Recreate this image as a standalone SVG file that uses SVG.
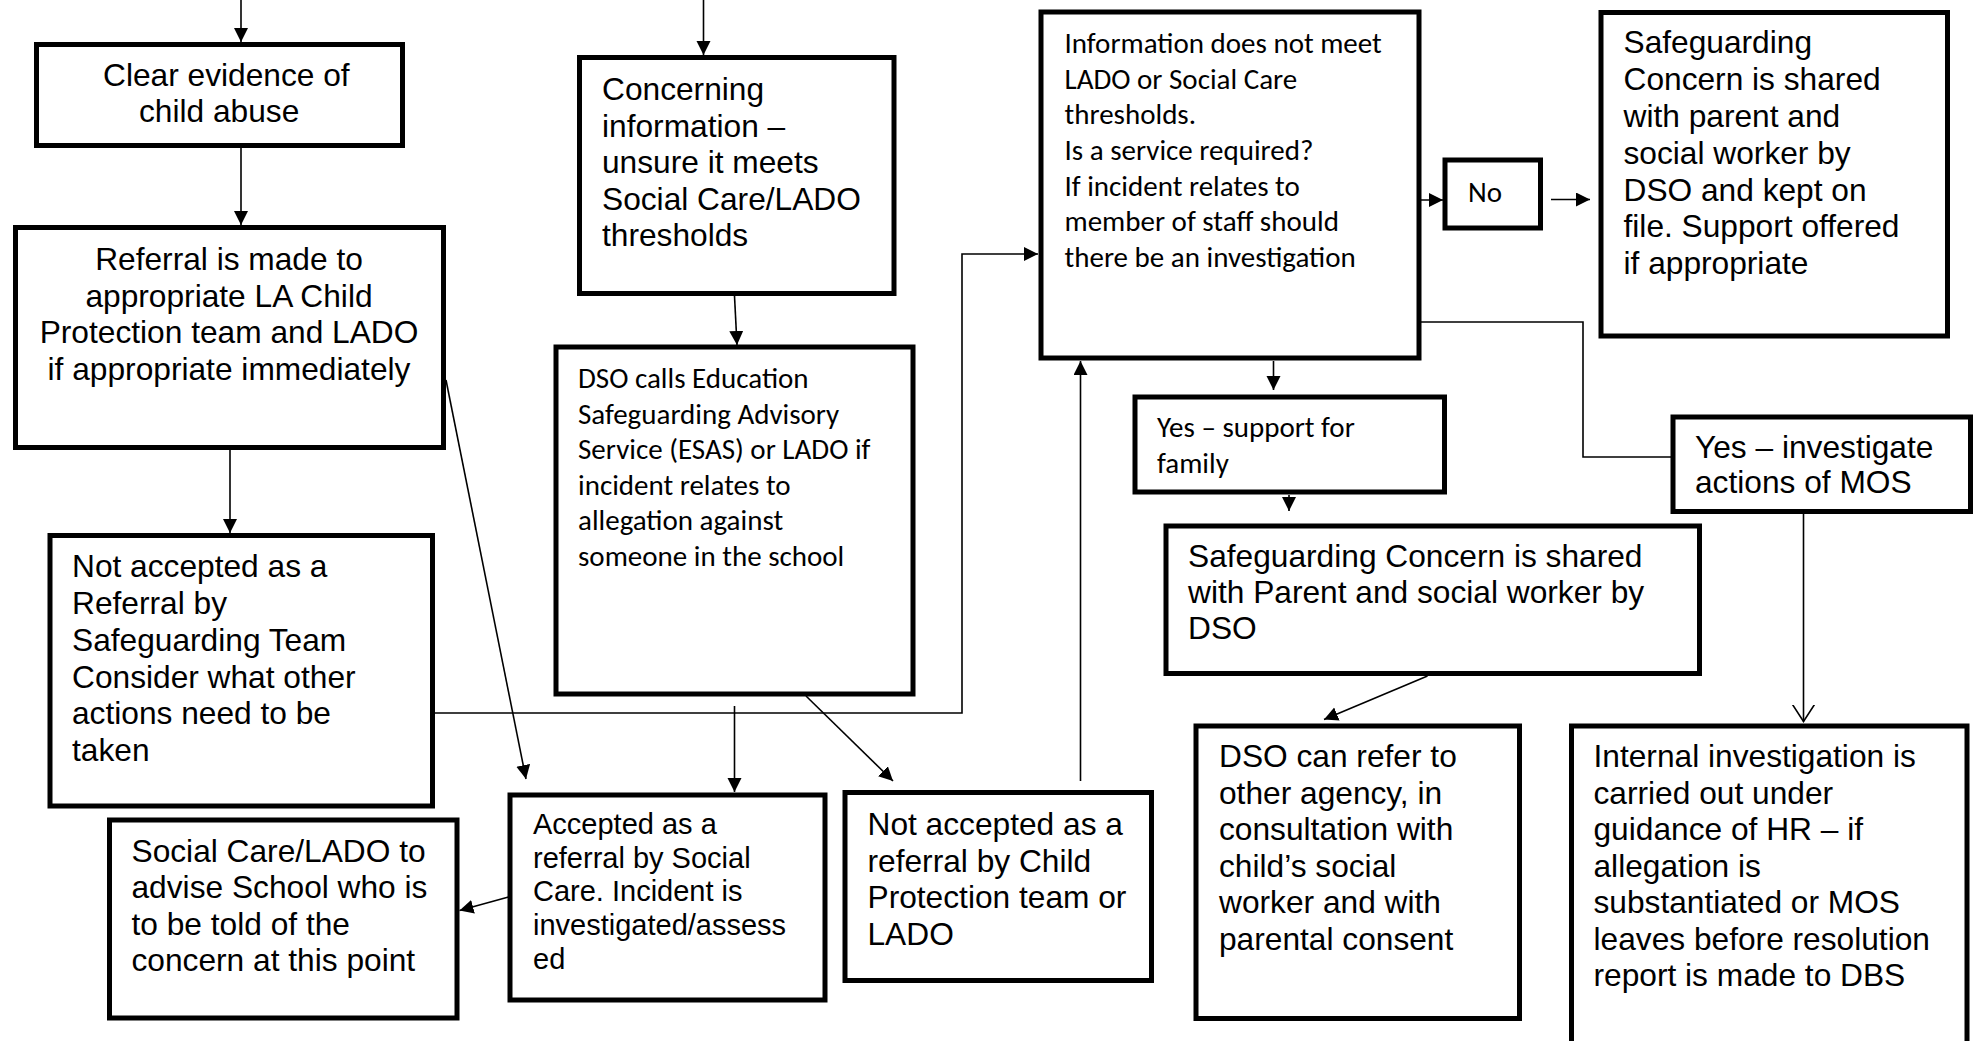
<svg xmlns="http://www.w3.org/2000/svg" width="1975" height="1041" viewBox="0 0 1975 1041">
  <style>
    .box { fill: #ffffff; stroke: #000000; stroke-width: 5; }
    .lnk { fill: none; stroke: #000000; stroke-width: 1.6; }
    .a { font-family: "Liberation Sans", Arial, sans-serif; font-size: 31.7px; fill: #000000; }
    .a29 { font-family: "Liberation Sans", Arial, sans-serif; font-size: 29px; fill: #000000; }
    .c { font-family: Carlito, Lato, "Open Sans", sans-serif; font-size: 29px; fill: #000000; }
  </style>
  <defs>
    <marker id="head" markerUnits="userSpaceOnUse" markerWidth="15" markerHeight="15" refX="14" refY="7" orient="auto">
      <path d="M0,0 L14,7 L0,14 z" fill="#000000"/>
    </marker>
    <marker id="vee" markerUnits="userSpaceOnUse" markerWidth="20" markerHeight="26" refX="17" refY="11" orient="auto">
      <path d="M0,0 L17,11 L0,22" fill="none" stroke="#000000" stroke-width="1.6"/>
    </marker>
  </defs>
  <rect width="1975" height="1041" fill="#ffffff"/>

  <!-- connectors -->
  <g id="connectors">
    <line class="lnk" x1="241" y1="0" x2="241" y2="42" marker-end="url(#head)"/>
    <line class="lnk" x1="241" y1="148" x2="241" y2="225" marker-end="url(#head)"/>
    <line class="lnk" x1="230" y1="450" x2="230" y2="533" marker-end="url(#head)"/>
    <line class="lnk" x1="446" y1="380" x2="526" y2="779" marker-end="url(#head)"/>
    <polyline class="lnk" points="435,713 962,713 962,254 1038,254" marker-end="url(#head)"/>
    <line class="lnk" x1="703.5" y1="0" x2="703.5" y2="55" marker-end="url(#head)"/>
    <line class="lnk" x1="734.5" y1="296" x2="737" y2="345" marker-end="url(#head)"/>
    <line class="lnk" x1="734.5" y1="706" x2="734.5" y2="792" marker-end="url(#head)"/>
    <line class="lnk" x1="806" y1="696" x2="893" y2="781" marker-end="url(#head)"/>
    <line class="lnk" x1="508.5" y1="897" x2="459.5" y2="910.5" marker-end="url(#head)"/>
    <line class="lnk" x1="1080.5" y1="781" x2="1080.5" y2="361" marker-end="url(#head)"/>
    <line class="lnk" x1="1401" y1="200" x2="1443" y2="200" marker-end="url(#head)"/>
    <line class="lnk" x1="1551" y1="199.5" x2="1590" y2="199.5" marker-end="url(#head)"/>
    <polyline class="lnk" points="1401,322 1583,322 1583,457 1671,457"/>
    <line class="lnk" x1="1273.5" y1="361" x2="1273.5" y2="390" marker-end="url(#head)"/>
    <line class="lnk" x1="1289" y1="495" x2="1289" y2="511" marker-end="url(#head)"/>
    <line class="lnk" x1="1427.5" y1="676" x2="1324" y2="719.5" marker-end="url(#head)"/>
    <line class="lnk" x1="1803.5" y1="514" x2="1803.5" y2="721.5" marker-end="url(#vee)"/>
  </g>

  <!-- left column -->
  <g id="clear-evidence">
    <rect class="box" x="36.5" y="44.5" width="366" height="101"/>
    <text class="a"><tspan x="103" y="86">Clear evidence of</tspan><tspan x="139" y="122">child abuse</tspan></text>
  </g>
  <g id="referral">
    <rect class="box" x="15.5" y="227.5" width="428" height="220"/>
    <text class="a" text-anchor="middle"><tspan x="229" y="270">Referral is made to</tspan><tspan x="229" y="306.5">appropriate LA Child</tspan><tspan x="229" y="343">Protection team and LADO</tspan><tspan x="229" y="379.5">if appropriate immediately</tspan></text>
  </g>
  <g id="not-accepted-safeguarding">
    <rect class="box" x="50" y="535.5" width="382.5" height="270.5"/>
    <text class="a"><tspan x="72" y="577">Not accepted as a</tspan><tspan x="72" y="614">Referral by</tspan><tspan x="72" y="651">Safeguarding Team</tspan><tspan x="72" y="687.5">Consider what other</tspan><tspan x="72" y="724">actions need to be</tspan><tspan x="72" y="761">taken</tspan></text>
  </g>
  <g id="advise-school">
    <rect class="box" x="109.5" y="820" width="347.5" height="198"/>
    <text class="a"><tspan x="131.5" y="861.5">Social Care/LADO to</tspan><tspan x="131.5" y="898">advise School who is</tspan><tspan x="131.5" y="934.5">to be told of the</tspan><tspan x="131.5" y="971">concern at this point</tspan></text>
  </g>

  <!-- middle column -->
  <g id="concerning-information">
    <rect class="box" x="579.5" y="57.5" width="314.5" height="236"/>
    <text class="a"><tspan x="602" y="100">Concerning</tspan><tspan x="602" y="136.5">information –</tspan><tspan x="602" y="173">unsure it meets</tspan><tspan x="602" y="209.5">Social Care/LADO</tspan><tspan x="602" y="246">thresholds</tspan></text>
  </g>
  <g id="dso-calls">
    <rect class="box" x="556" y="347" width="357" height="347"/>
    <text class="c"><tspan x="578" y="388">DSO calls Education</tspan><tspan x="578" y="423.5">Safeguarding Advisory</tspan><tspan x="578" y="459">Service (ESAS) or LADO if</tspan><tspan x="578" y="494.5">incident relates to</tspan><tspan x="578" y="530">allegation against</tspan><tspan x="578" y="565.5">someone in the school</tspan></text>
  </g>
  <g id="accepted-social-care">
    <rect class="box" x="510" y="795" width="315" height="205"/>
    <text class="a29"><tspan x="533" y="834">Accepted as a</tspan><tspan x="533" y="867.5">referral by Social</tspan><tspan x="533" y="901">Care. Incident is</tspan><tspan x="533" y="935">investigated/assess</tspan><tspan x="533" y="968.5">ed</tspan></text>
  </g>
  <g id="not-accepted-cp">
    <rect class="box" x="845" y="792.5" width="306.5" height="188"/>
    <text class="a"><tspan x="867.5" y="835">Not accepted as a</tspan><tspan x="867.5" y="871.5">referral by Child</tspan><tspan x="867.5" y="908">Protection team or</tspan><tspan x="867.5" y="944.5">LADO</tspan></text>
  </g>

  <!-- right side -->
  <g id="threshold-question">
    <rect class="box" x="1041" y="12" width="378" height="346"/>
    <text class="c"><tspan x="1064.5" y="53">Information does not meet</tspan><tspan x="1064.5" y="88.7">LADO or Social Care</tspan><tspan x="1064.5" y="124.4">thresholds.</tspan><tspan x="1064.5" y="160">Is a service required?</tspan><tspan x="1064.5" y="195.7">If incident relates to</tspan><tspan x="1064.5" y="231.4">member of staff should</tspan><tspan x="1064.5" y="267">there be an investigation</tspan></text>
  </g>
  <g id="no">
    <rect class="box" x="1445" y="160" width="95.5" height="68"/>
    <text class="c" x="1468" y="202">No</text>
  </g>
  <g id="shared-kept-on-file">
    <rect class="box" x="1601" y="12.5" width="346.5" height="323.5"/>
    <text class="a"><tspan x="1623.5" y="53">Safeguarding</tspan><tspan x="1623.5" y="90">Concern is shared</tspan><tspan x="1623.5" y="126.5">with parent and</tspan><tspan x="1623.5" y="163.5">social worker by</tspan><tspan x="1623.5" y="200.5">DSO and kept on</tspan><tspan x="1623.5" y="237">file. Support offered</tspan><tspan x="1623.5" y="274">if appropriate</tspan></text>
  </g>
  <g id="yes-support-family">
    <rect class="box" x="1135" y="397" width="309.5" height="95"/>
    <text class="c"><tspan x="1157" y="437">Yes – support for</tspan><tspan x="1157" y="472.5">family</tspan></text>
  </g>
  <g id="yes-investigate-mos">
    <rect class="box" x="1673" y="417" width="297.5" height="94.5"/>
    <text class="a"><tspan x="1695" y="457.5">Yes – investigate</tspan><tspan x="1695" y="493">actions of MOS</tspan></text>
  </g>
  <g id="shared-with-parent">
    <rect class="box" x="1166" y="526" width="533.5" height="147.5"/>
    <text class="a"><tspan x="1188" y="566.5">Safeguarding Concern is shared</tspan><tspan x="1188" y="602.5">with Parent and social worker by</tspan><tspan x="1188" y="638.5">DSO</tspan></text>
  </g>
  <g id="refer-other-agency">
    <rect class="box" x="1196" y="726" width="323.5" height="292.5"/>
    <text class="a"><tspan x="1219" y="767">DSO can refer to</tspan><tspan x="1219" y="803.5">other agency, in</tspan><tspan x="1219" y="840">consultation with</tspan><tspan x="1219" y="876.5">child’s social</tspan><tspan x="1219" y="913">worker and with</tspan><tspan x="1219" y="950">parental consent</tspan></text>
  </g>
  <g id="internal-investigation">
    <rect class="box" x="1571.5" y="726" width="395.5" height="330"/>
    <text class="a"><tspan x="1593.5" y="767">Internal investigation is</tspan><tspan x="1593.5" y="803.5">carried out under</tspan><tspan x="1593.5" y="840">guidance of HR – if</tspan><tspan x="1593.5" y="876.5">allegation is</tspan><tspan x="1593.5" y="913">substantiated or MOS</tspan><tspan x="1593.5" y="950">leaves before resolution</tspan><tspan x="1593.5" y="986">report is made to DBS</tspan></text>
  </g>
</svg>
